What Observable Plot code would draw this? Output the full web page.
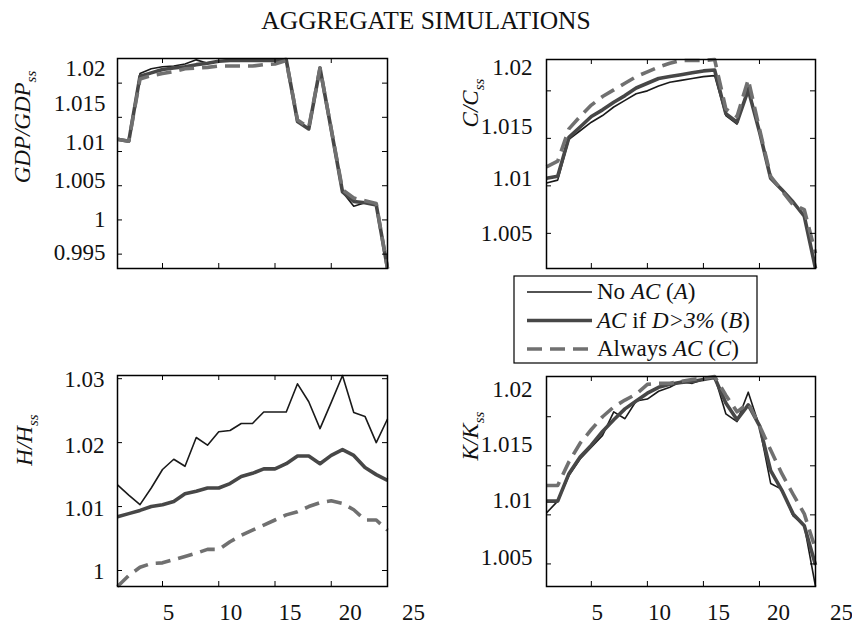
<!DOCTYPE html>
<html><head><meta charset="utf-8">
<script src="https://cdn.jsdelivr.net/npm/d3@7"></script>
<script src="https://cdn.jsdelivr.net/npm/@observablehq/plot@0.6"></script>
<style>
body{margin:0;background:#fff;}
#wrap{position:relative;width:852px;height:627px;font-family:"Liberation Serif","Times New Roman",serif;}
#wrap > svg{position:absolute;}
</style></head><body><div id="wrap"></div>
<script>
// ---------- data ----------
const periods = [1,2,3,4,5,6,7,8,9,10,11,12,13,14,15,16,17,18,19,20,21,22,23,24,25];
const xTicks = [5,10,15,20,25];
const seriesLabels = ["No AC (A)", "AC if D>3% (B)", "Always AC (C)"];

const gdpA = [1.0118,1.0115,1.0214,1.0221,1.0224,1.0225,1.0228,1.0234,1.0229,1.0232,1.0234,1.0234,1.0234,1.0234,1.0234,1.0236,1.0144,1.0133,1.0222,1.0132,1.0041,1.0020,1.0025,1.0022,0.9929];
const gdpB = [1.0118,1.0115,1.0210,1.0215,1.0220,1.0222,1.0224,1.0227,1.0229,1.0232,1.0233,1.0233,1.0233,1.0233,1.0233,1.0234,1.0144,1.0133,1.0222,1.0132,1.0041,1.0027,1.0025,1.0022,0.9929];
const gdpC = [1.0118,1.0115,1.0206,1.0211,1.0214,1.0217,1.0221,1.0222,1.0223,1.0225,1.0225,1.0225,1.0225,1.0227,1.0228,1.0233,1.0146,1.0135,1.0222,1.0133,1.0044,1.0032,1.0028,1.0024,0.9929];
const gdpTicks = [0.995,1,1.005,1.01,1.015,1.02];

const cA = [1.0103,1.0106,1.0149,1.0158,1.0167,1.0174,1.0183,1.0190,1.0197,1.0200,1.0205,1.0209,1.0211,1.0213,1.0215,1.0216,1.0174,1.0165,1.0204,1.0157,1.0108,1.0096,1.0083,1.0068,1.0013];
const cB = [1.0108,1.0110,1.0151,1.0162,1.0173,1.0180,1.0188,1.0195,1.0203,1.0208,1.0213,1.0215,1.0217,1.0219,1.0221,1.0222,1.0176,1.0167,1.0201,1.0157,1.0108,1.0096,1.0083,1.0068,1.0013];
const cC = [1.0120,1.0126,1.0160,1.0173,1.0185,1.0194,1.0201,1.0208,1.0215,1.0220,1.0225,1.0229,1.0232,1.0232,1.0232,1.0233,1.0181,1.0173,1.0212,1.0160,1.0110,1.0095,1.0080,1.0075,1.0029];
const cTicks = [1.005,1.01,1.015,1.02];

const hA = [1.0134,1.0118,1.0103,1.0129,1.0158,1.0174,1.0163,1.0208,1.0196,1.0217,1.0219,1.0230,1.0230,1.0248,1.0248,1.0248,1.0292,1.0264,1.0222,1.0263,1.0305,1.0247,1.0241,1.0200,1.0237];
const hB = [1.0084,1.0089,1.0094,1.0100,1.0103,1.0108,1.0120,1.0124,1.0129,1.0129,1.0136,1.0147,1.0152,1.0159,1.0159,1.0167,1.0179,1.0179,1.0167,1.0180,1.0189,1.0180,1.0161,1.0150,1.0141];
const hC = [0.9975,0.9992,1.0005,1.0011,1.0012,1.0017,1.0022,1.0027,1.0033,1.0033,1.0045,1.0055,1.0063,1.0071,1.0079,1.0087,1.0092,1.0100,1.0106,1.0109,1.0105,1.0095,1.0079,1.0079,1.0063];
const hTicks = [1,1.01,1.02,1.03];

const kA = [1.0102,1.0114,1.0140,1.0157,1.0169,1.0181,1.0205,1.0198,1.0216,1.0218,1.0226,1.0230,1.0236,1.0234,1.0238,1.0241,1.0203,1.0195,1.0225,1.0190,1.0132,1.0126,1.0099,1.0089,1.0027];
const kB = [1.0114,1.0114,1.0142,1.0159,1.0171,1.0185,1.0197,1.0208,1.0216,1.0224,1.0230,1.0233,1.0235,1.0236,1.0238,1.0240,1.0214,1.0197,1.0212,1.0191,1.0145,1.0125,1.0101,1.0089,1.0049];
const kC = [1.0130,1.0130,1.0154,1.0173,1.0187,1.0200,1.0210,1.0217,1.0223,1.0233,1.0234,1.0234,1.0236,1.0238,1.0239,1.0241,1.0222,1.0205,1.0214,1.0191,1.0166,1.0142,1.0121,1.0101,1.0065];
const kTicks = [1.005,1.01,1.015,1.02];

const title = "AGGREGATE SIMULATIONS";

// ---------- layout & style ----------
const FONT = '"Liberation Serif","Times New Roman",serif';
const seriesStyle = [
  {stroke:"#1a1a1a", strokeWidth:1.6},
  {stroke:"#474747", strokeWidth:3.6},
  {stroke:"#707070", strokeWidth:3.6, strokeDasharray:"15,8"}
];
const xLabelShift = [6,12,15,19,26];
const panels = [
  {name:"GDP", sub:"ss", series:[gdpA,gdpB,gdpC], ticks:gdpTicks, left:0, top:0, width:430, height:300, m:[58,43,32,117], padY:12, yShift:[-2,0,-5,-9,-14,-15], showX:false, tx:30, ty:127},
  {name:"C", sub:"ss", series:[cA,cB,cC], ticks:cTicks, left:430, top:0, width:422, height:300, m:[59,37,32,116], padY:14, yShift:[0,-7,-12,-23], showX:false, tx:478, ty:103},
  {name:"H", sub:"ss", series:[hA,hB,hC], ticks:hTicks, left:0, top:300, width:430, height:327, m:[75,43,41,117], padY:13, yShift:[1,2,3,1], showX:true, tx:32, ty:440},
  {name:"K", sub:"ss", series:[kA,kB,kC], ticks:kTicks, left:430, top:300, width:422, height:327, m:[76,37,41,116], padY:14, yShift:[-6,-14,-21,-27], showX:true, tx:478, ty:436}
];

const wrap = document.getElementById("wrap");

for (const p of panels) {
  const [mt, mr, mb, ml] = p.m;
  const fw = p.width - ml - mr, fh = p.height - mt - mb;
  const all = p.series.flat();
  const marks = [];
  p.series.forEach((s, i) => {
    marks.push(Plot.line(s, {x: periods, y: d => d, ...seriesStyle[i], strokeLinejoin:"round", strokeLinecap:"butt"}));
  });
  marks.push(Plot.tickX(xTicks, {x: d => d, insetTop: fh - 5, stroke:"#000"}));
  marks.push(Plot.tickX(xTicks, {x: d => d, insetBottom: fh - 5, stroke:"#000"}));
  marks.push(Plot.tickY(p.ticks, {y: d => d, insetRight: fw - 5, stroke:"#000"}));
  marks.push(Plot.tickY(p.ticks, {y: d => d, insetLeft: fw - 5, stroke:"#000"}));
  p.ticks.forEach((v, i) => {
    marks.push(Plot.text([v], {y: d => d, frameAnchor:"left", textAnchor:"end", dx: -p.padY, dy: p.yShift[i], fontSize:23, fill:"#111", text: d => String(d)}));
  });
  if (p.showX) {
    xTicks.forEach((v, i) => {
      marks.push(Plot.text([v], {x: d => d, frameAnchor:"bottom", dy: 26, dx: xLabelShift[i], lineAnchor:"middle", fontSize:23, fill:"#111", text: d => String(d)}));
    });
  }
  marks.push(Plot.frame({stroke:"#000", strokeWidth:1.5}));
  const svg = Plot.plot({
    width: p.width, height: p.height,
    marginTop: mt, marginRight: mr, marginBottom: mb, marginLeft: ml,
    x: {domain: d3.extent(periods), axis: null},
    y: {domain: d3.extent(all), axis: null},
    style: {fontFamily: FONT, background: "transparent", overflow: "visible"},
    marks
  });
  svg.style.left = p.left + "px";
  svg.style.top = p.top + "px";
  wrap.appendChild(svg);
}

// ---------- overlay: title, axis titles, legend ----------
const ov = d3.select(wrap).append("svg")
  .attr("width", 852).attr("height", 627)
  .style("left", "0px").style("top", "0px")
  .style("pointer-events", "none")
  .style("font-family", FONT);

ov.append("text").attr("x", 426).attr("y", 29).attr("text-anchor", "middle")
  .attr("font-size", 25.5).attr("fill", "#111").text(title);

for (const p of panels) {
  const t = ov.append("text")
    .attr("transform", `translate(${p.tx},${p.ty}) rotate(-90)`)
    .attr("text-anchor", "middle").attr("font-size", 23).attr("fill", "#111")
    .attr("font-style", "italic");
  t.append("tspan").text(`${p.name}/${p.name}`);
  t.append("tspan").attr("font-size", 15).attr("dy", 6).text(p.sub);
}

// legend
const lg = ov.append("g");
lg.append("rect").attr("x", 514).attr("y", 276).attr("width", 243).attr("height", 87)
  .attr("fill", "#fff").attr("stroke", "#000").attr("stroke-width", 1.2);
const legendParts = [
  [["No ", false], ["AC", true], [" (", false], ["A", true], [")", false]],
  [["AC", true], [" if ", false], ["D>3%", true], [" (", false], ["B", true], [")", false]],
  [["Always ", false], ["AC", true], [" (", false], ["C", true], [")", false]]
];
seriesLabels.forEach((lab, i) => {
  const y = 292 + i * 28.5;
  const st = seriesStyle[i];
  lg.append("line").attr("x1", 527).attr("x2", 592).attr("y1", y).attr("y2", y)
    .attr("stroke", st.stroke).attr("stroke-width", st.strokeWidth)
    .attr("stroke-dasharray", st.strokeDasharray || null);
  const tx = lg.append("text").attr("x", 597).attr("y", y + 7).attr("font-size", 23).attr("fill", "#111")
    .attr("aria-label", lab);
  for (const [s, it] of legendParts[i]) {
    tx.append("tspan").attr("font-style", it ? "italic" : "normal").text(s);
  }
});
</script>
</body></html>
